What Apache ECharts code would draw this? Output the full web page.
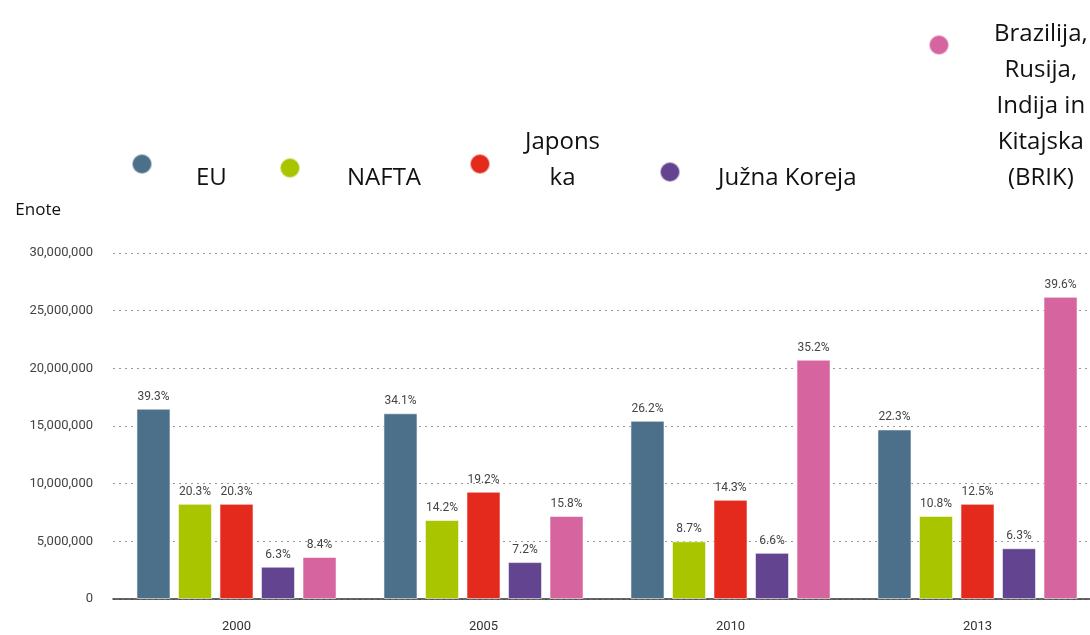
<!DOCTYPE html>
<html>
<head>
<meta charset="utf-8">
<style>
    html, body { margin: 0; padding: 0; background: #fff; }
    #chart { width: 1090px; height: 635px; }
</style>
<script src="https://cdn.jsdelivr.net/npm/echarts@6/dist/echarts.min.js"></script>
</head>
<body>
<div id="chart"></div>
<script>
// kategorije (leta)
const years = ["2000", "2005", "2010", "2013"];
// proizvodnja vozil, enote
const euVals = [16500000, 16100000, 15450000, 14700000];
const naftaVals = [8250000, 6850000, 5000000, 7200000];
const japanVals = [8250000, 9300000, 8600000, 8250000];
const koreaVals = [2800000, 3200000, 4000000, 4400000];
const brikVals = [3650000, 7200000, 20750000, 26200000];
// delez v svetovni proizvodnji
const euPct = ["39.3%", "34.1%", "26.2%", "22.3%"];
const naftaPct = ["20.3%", "14.2%", "8.7%", "10.8%"];
const japanPct = ["20.3%", "19.2%", "14.3%", "12.5%"];
const koreaPct = ["6.3%", "7.2%", "6.6%", "6.3%"];
const brikPct = ["8.4%", "15.8%", "35.2%", "39.6%"];

const LINE_H = 36;

// icon = sredina kroga, pad = zamik besedila od ikone [zgoraj, desno, spodaj, levo]
const seriesDefs = [
    { name: "EU", lines: 1, data: euVals, pct: euPct, color: "#4c7089",
      icon: [141, 164], pad: [28, 0, 0, 39] },
    { name: "NAFTA", lines: 1, data: naftaVals, pct: naftaPct, color: "#a9c500",
      icon: [289, 168], pad: [20, 0, 0, 42] },
    { name: "Japonska", label: "{c|Japons}\n{c|ka}", lines: 2, data: japanVals, pct: japanPct, color: "#e42a1c",
      icon: [479, 164], pad: [0, 0, 8, 30] },
    { name: "Južna Koreja", lines: 1, data: koreaVals, pct: koreaPct, color: "#634490",
      icon: [669, 172], pad: [12, 0, 0, 33] },
    { name: "Brazilija, Rusija, Indija in Kitajska (BRIK)",
      label: "{c|Brazilija,}\n{c|Rusija,}\n{c|Indija in}\n{c|Kitajska}\n{c|(BRIK)}", lines: 5,
      data: brikVals, pct: brikPct, color: "#d6649f",
      icon: [938, 45], pad: [123, 0, 0, 40] },
];

const legendFont = "'Open Sans', sans-serif";
const numFont = "Roboto, sans-serif";

// legenda poravna zgornji rob skupine, besedilo z zamikom jo razširi navzgor
function legendTop(s) {
    let h = s.lines * LINE_H + s.pad[0] + s.pad[2];
    return s.icon[1] - 10 - Math.max(0, h / 2 - 10);
}

const chart = echarts.init(document.getElementById("chart"));

let option = {
    animation: false,
    textStyle: { fontFamily: numFont },
    // mreza sega cez desni rob slike (zadnja skupina je odrezana)
    grid: { left: 113, top: 253, width: 988, bottom: 36, containLabel: false, outerBoundsMode: "none" },
    legend: seriesDefs.map((s) => ({
        data: [{ name: s.name, icon: "circle", itemStyle: { color: s.color } }],
        left: s.icon[0] - 10,
        top: legendTop(s),
        padding: 0,
        itemWidth: 20,
        itemHeight: 20,
        selectedMode: false,
        formatter: () => s.label || s.name,
        textStyle: {
            fontFamily: legendFont,
            fontSize: 24,
            color: "#111",
            lineHeight: LINE_H,
            padding: s.pad,
            rich: { c: { align: "center", fontFamily: legendFont, fontSize: 24, lineHeight: LINE_H, color: "#111" } },
        },
    })),
    xAxis: {
        type: "category",
        data: years,
        axisLine: { lineStyle: { color: "#333", width: 1.5 } },
        axisTick: { alignWithLabel: true, length: 8, lineStyle: { color: "#333", width: 1.5 } },
        axisLabel: { color: "#333", fontSize: 13, margin: 21, fontFamily: numFont },
    },
    yAxis: {
        type: "value",
        min: 0,
        max: 30000000,
        interval: 5000000,
        name: "Enote",
        nameLocation: "end",
        nameGap: 34,
        nameTextStyle: { fontFamily: legendFont, fontSize: 17, color: "#111", align: "right", padding: [0, 52, 0, 0] },
        axisLine: { show: false },
        axisTick: { show: false },
        axisLabel: {
            color: "#444",
            fontSize: 13,
            margin: 20,
            fontFamily: numFont,
            formatter: (v) => v.toLocaleString("en-US"),
        },
        splitLine: { lineStyle: { color: "#999", type: [2, 4], width: 1 } },
    },
    series: seriesDefs.map((s) => ({
        name: s.name,
        type: "bar",
        data: s.data,
        barGap: "22%",
        barCategoryGap: "19%",
        itemStyle: { color: s.color, borderColor: "rgba(255,255,255,0.55)", borderWidth: 1 },
        label: {
            show: true,
            position: "top",
            distance: 6,
            fontSize: 12,
            color: "#444",
            fontFamily: numFont,
            formatter: (p) => s.pct[p.dataIndex],
        },
    })),
};

chart.setOption(option);
</script>
</body>
</html>
